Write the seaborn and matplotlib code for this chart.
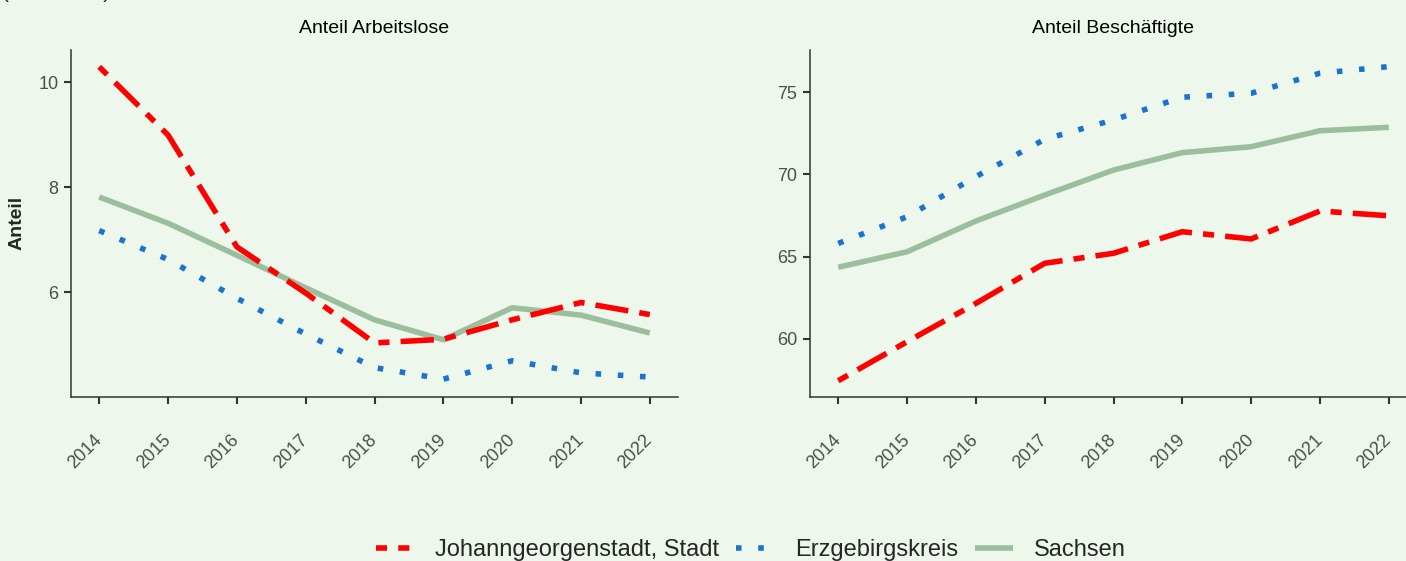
import pandas as pd
import seaborn as sns
import matplotlib.pyplot as plt
from matplotlib.lines import Line2D

# DATA

jahre = list(range(2014, 2023))
regionen = ["Johanngeorgenstadt, Stadt", "Erzgebirgskreis", "Sachsen"]

arbeitslose_johann = [10.29, 8.99, 6.86, 5.98, 5.03, 5.10, 5.47, 5.80, 5.57]
arbeitslose_erz = [7.17, 6.62, 5.88, 5.20, 4.56, 4.34, 4.69, 4.46, 4.38]
arbeitslose_sachsen = [7.81, 7.31, 6.70, 6.08, 5.47, 5.09, 5.70, 5.56, 5.22]

beschaeftigte_johann = [57.46, 59.83, 62.16, 64.60, 65.21, 66.52, 66.08, 67.78, 67.49]
beschaeftigte_erz = [65.81, 67.43, 69.87, 72.14, 73.32, 74.70, 74.94, 76.16, 76.56]
beschaeftigte_sachsen = [64.36, 65.30, 67.17, 68.75, 70.27, 71.33, 71.69, 72.66, 72.87]

titel = ["Anteil Arbeitslose", "Anteil Beschäftigte"]

# STYLE

bg = "#eef7ec"
farben = {
    "Johanngeorgenstadt, Stadt": "#ff0000",
    "Erzgebirgskreis": "#1874cd",
    "Sachsen": "#9bbf9d",
}
striche = {
    "Johanngeorgenstadt, Stadt": (2, 2, 6, 2),
    "Erzgebirgskreis": (1, 3),
    "Sachsen": "",
}
zeichen_reihenfolge = ["Sachsen", "Erzgebirgskreis", "Johanngeorgenstadt, Stadt"]

sns.set_style("ticks")
plt.rcParams["font.family"] = ["Liberation Sans", "DejaVu Sans"]


def long_df(werte_j, werte_e, werte_s):
    rows = []
    for reg, werte in zip(regionen, [werte_j, werte_e, werte_s]):
        for j, w in zip(jahre, werte):
            rows.append({"Jahr": j, "Anteil": w, "Region": reg})
    return pd.DataFrame(rows)


df_arbeit = long_df(arbeitslose_johann, arbeitslose_erz, arbeitslose_sachsen)
df_besch = long_df(beschaeftigte_johann, beschaeftigte_erz, beschaeftigte_sachsen)

fig = plt.figure(figsize=(14.06, 5.61), dpi=100)
fig.patch.set_facecolor(bg)

ax_l = fig.add_axes([71 / 1406, 1 - 397 / 561, 607 / 1406, 347 / 561])
ax_r = fig.add_axes([810 / 1406, 1 - 397 / 561, 607 / 1406, 347 / 561])

for ax, df, t, ylim, yticks in [
    (ax_l, df_arbeit, titel[0], (4.0, 10.61), [6, 8, 10]),
    (ax_r, df_besch, titel[1], (56.47, 77.57), [60, 65, 70, 75]),
]:
    ax.set_facecolor(bg)
    sns.lineplot(
        data=df,
        x="Jahr",
        y="Anteil",
        hue="Region",
        style="Region",
        hue_order=zeichen_reihenfolge,
        style_order=zeichen_reihenfolge,
        palette=farben,
        dashes=striche,
        linewidth=4,
        legend=False,
        ax=ax,
    )
    for ln in ax.get_lines():
        ln.set_dash_capstyle("butt")
        ln.set_solid_capstyle("butt")
    ax.set_xlim(2013.59, 2022.41)
    ax.set_ylim(*ylim)
    ax.set_xticks(jahre)
    ax.set_yticks(yticks)
    ax.set_xlabel("")
    ax.set_ylabel("")
    ax.set_title(t, fontsize=14, pad=12, color="black")
    sns.despine(ax=ax)
    for s in ["left", "bottom"]:
        ax.spines[s].set_color("#333333")
        ax.spines[s].set_linewidth(1.1)
    ax.tick_params(
        axis="both",
        colors="#333333",
        labelcolor="#4d4d4d",
        labelsize=13,
        length=5,
        width=1.5,
    )
    ax.tick_params(axis="y", pad=4)
    ax.tick_params(axis="x", pad=24)
    for lab in ax.get_xticklabels():
        lab.set_rotation(45)
        lab.set_ha("right")
        lab.set_va("center")
        lab.set_rotation_mode("anchor")

fig.text(17 / 1406, 1 - 223 / 561, "Anteil", rotation=90, fontsize=14,
         fontweight="bold", ha="center", va="center")

fig.text(2 / 1406, 1 + 2 / 561, "(in Prozent)", fontsize=15,
         ha="left", va="baseline", color="#222222")

# LEGEND

handles = [
    Line2D([], [], color=farben["Johanngeorgenstadt, Stadt"], linewidth=4,
           dashes=(2, 2), dash_capstyle="butt"),
    Line2D([], [], color=farben["Erzgebirgskreis"], linewidth=4,
           dashes=striche["Erzgebirgskreis"], dash_capstyle="butt"),
    Line2D([], [], color=farben["Sachsen"], linewidth=4, solid_capstyle="butt"),
]

fig.legend(
    handles,
    regionen,
    loc="center",
    bbox_to_anchor=(751 / 1406, 1 - 550 / 561),
    ncol=3,
    frameon=False,
    fontsize=17,
    handlelength=1.6,
    handletextpad=0.9,
    columnspacing=0.7,
)

fig.savefig("out.png", dpi=100, facecolor=bg)
